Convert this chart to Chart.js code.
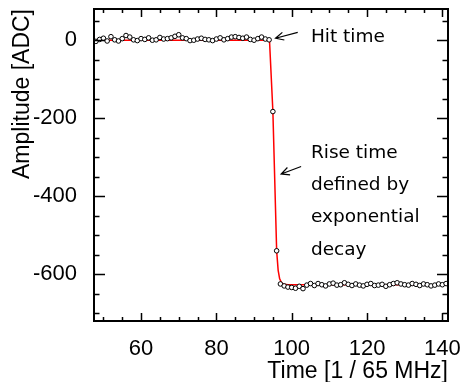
<!DOCTYPE html>
<html>
<head>
<meta charset="utf-8">
<script src="https://cdn.jsdelivr.net/npm/chart.js@4"></script>
<style>
  html, body { margin: 0; padding: 0; background: #fff; }
</style>
</head>
<body>
<canvas id="pulseChart" width="461" height="382"></canvas>
<script>
const sampleTimes = [48, 49, 50, 51, 52, 53, 54, 55, 56, 57, 58, 59, 60, 61, 62, 63, 64, 65, 66, 67,
  68, 69, 70, 71, 72, 73, 74, 75, 76, 77, 78, 79, 80, 81, 82, 83, 84, 85, 86, 87,
  88, 89, 90, 91, 92, 93, 94, 95, 96, 97, 98, 99, 100, 101, 102, 103, 104, 105, 106, 107,
  108, 109, 110, 111, 112, 113, 114, 115, 116, 117, 118, 119, 120, 121, 122, 123, 124, 125, 126, 127,
  128, 129, 130, 131, 132, 133, 134, 135, 136, 137, 138, 139, 140, 141];
const amplitudes = [-3, 2, 5, -2, 9, 1, -2, 4, 12, 8, 1, -1, 4, 2, 6, 0, 1, 7, 3, 4,
  6, 10, 14, 6, 4, -1, 0, 3, 5, 2, 1, -1, 3, 6, 1, 4, 8, 9, 7, 5,
  8, 2, 0, 4, 8, 3, 1, -183, -540, -625, -630, -633, -634, -636, -631, -637, -628, -624, -629, -624,
  -627, -630, -625, -623, -628, -627, -622, -626, -629, -625, -628, -630, -626, -624, -629, -628, -626, -631, -627, -624,
  -622, -625, -627, -628, -624, -626, -629, -625, -627, -630, -628, -625, -627, -624];

// fitted pulse shape (red curve)
const fitTimes = [47.5, 94.1, 95, 96, 96.4, 96.8, 97.3, 98, 99, 141.5];
const fitValues = [0, 0, -183, -540, -590, -612, -622, -626, -627, -627];

const xTickValues = [60, 80, 100, 120, 140];
const yTickValues = [0, -200, -400, -600];

const tickFont = { family: 'Liberation Sans, Arial, Helvetica, sans-serif', size: 22 };
const titleFont = { family: 'Liberation Sans, Arial, Helvetica, sans-serif', size: 23 };
const noteFont = '18.5px "DejaVu Sans", sans-serif';

// frame, inward ticks on all four sides, and the two text notes with arrows
const rootStyle = {
  id: 'rootStyle',
  afterDatasetsDraw(chart) {
    const { ctx, chartArea: a, scales: { x, y } } = chart;
    ctx.save();
    ctx.strokeStyle = '#000';
    ctx.lineWidth = 1.5;
    ctx.beginPath();
    for (let t = 50; t <= 141; t += 5) {
      const px = Math.round(x.getPixelForValue(t)) + 0.5;
      const len = t % 20 === 0 ? 8 : 4;
      ctx.moveTo(px, a.bottom); ctx.lineTo(px, a.bottom - len);
      ctx.moveTo(px, a.top); ctx.lineTo(px, a.top + len);
    }
    for (let v = -700; v <= 80; v += 50) {
      const py = Math.round(y.getPixelForValue(v)) + 0.5;
      const len = v % 200 === 0 ? 11 : 5.5;
      ctx.moveTo(a.left, py); ctx.lineTo(a.left + len, py);
      ctx.moveTo(a.right, py); ctx.lineTo(a.right - len, py);
    }
    ctx.stroke();

    ctx.lineWidth = 2;
    ctx.strokeRect(a.left, a.top, a.right - a.left, a.bottom - a.top);

    // notes
    ctx.fillStyle = '#000';
    ctx.font = noteFont;
    ctx.textAlign = 'left';
    ctx.textBaseline = 'alphabetic';
    const noteX = x.getPixelForValue(105.1);
    ctx.fillText('Hit time', noteX, y.getPixelForValue(-4));
    const riseLines = ['Rise time', 'defined by', 'exponential', 'decay'];
    const riseY = [-302, -384, -466, -551];
    riseLines.forEach((s, i) => ctx.fillText(s, noteX, y.getPixelForValue(riseY[i])));

    const arrow = (t0, v0, t1, v1) => {
      const x0 = x.getPixelForValue(t0), y0 = y.getPixelForValue(v0);
      const x1 = x.getPixelForValue(t1), y1 = y.getPixelForValue(v1);
      const ang = Math.atan2(y1 - y0, x1 - x0);
      ctx.lineWidth = 1.2;
      ctx.beginPath();
      ctx.moveTo(x0, y0); ctx.lineTo(x1, y1);
      ctx.moveTo(x1 - 9 * Math.cos(ang - 0.45), y1 - 9 * Math.sin(ang - 0.45));
      ctx.lineTo(x1, y1);
      ctx.lineTo(x1 - 9 * Math.cos(ang + 0.45), y1 - 9 * Math.sin(ang + 0.45));
      ctx.stroke();
    };
    arrow(101.6, 20, 95.7, 5);
    arrow(102.5, -324, 97.2, -343);
    ctx.restore();
  }
};

const ctx = document.getElementById('pulseChart').getContext('2d');
new Chart(ctx, {
  type: 'scatter',
  data: {
    datasets: [
      {
        label: 'fit',
        data: fitTimes.map((t, i) => ({ x: t, y: fitValues[i] })),
        showLine: true,
        borderColor: '#ff0000',
        borderWidth: 1.5,
        pointRadius: 0,
        order: 1
      },
      {
        label: 'samples',
        data: sampleTimes.map((t, i) => ({ x: t, y: amplitudes[i] })),
        pointRadius: 2.3,
        pointBorderWidth: 1,
        pointBorderColor: '#000',
        pointBackgroundColor: '#fff',
        order: 0
      }
    ]
  },
  options: {
    responsive: false,
    animation: false,
    layout: { padding: { top: 9, right: 13, left: 0, bottom: 0 } },
    plugins: { legend: { display: false }, tooltip: { enabled: false } },
    scales: {
      x: {
        type: 'linear',
        min: 47.5,
        max: 141.5,
        afterBuildTicks: s => { s.ticks = xTickValues.map(v => ({ value: v })); },
        afterFit: s => { s.height = 61; s.paddingLeft = 0; s.paddingRight = 0; },
        grid: { display: false },
        border: { display: false },
        ticks: { font: tickFont, color: '#000', padding: 7, maxRotation: 0 },
        title: {
          display: true, text: 'Time [1 / 65 MHz]', align: 'end',
          font: titleFont, color: '#000', padding: { top: 0, bottom: -3 }
        }
      },
      y: {
        type: 'linear',
        min: -720,
        max: 80,
        afterBuildTicks: s => { s.ticks = yTickValues.map(v => ({ value: v })); },
        afterFit: s => { s.width = 94; s.paddingTop = 0; s.paddingBottom = 0; },
        grid: { display: false },
        border: { display: false },
        ticks: { font: tickFont, color: '#000', padding: 9 },
        title: {
          display: true, text: 'Amplitude [ADC]', align: 'end',
          font: titleFont, color: '#000', padding: { top: 9, bottom: 0 }
        }
      }
    }
  },
  plugins: [rootStyle]
});
</script>
</body>
</html>
